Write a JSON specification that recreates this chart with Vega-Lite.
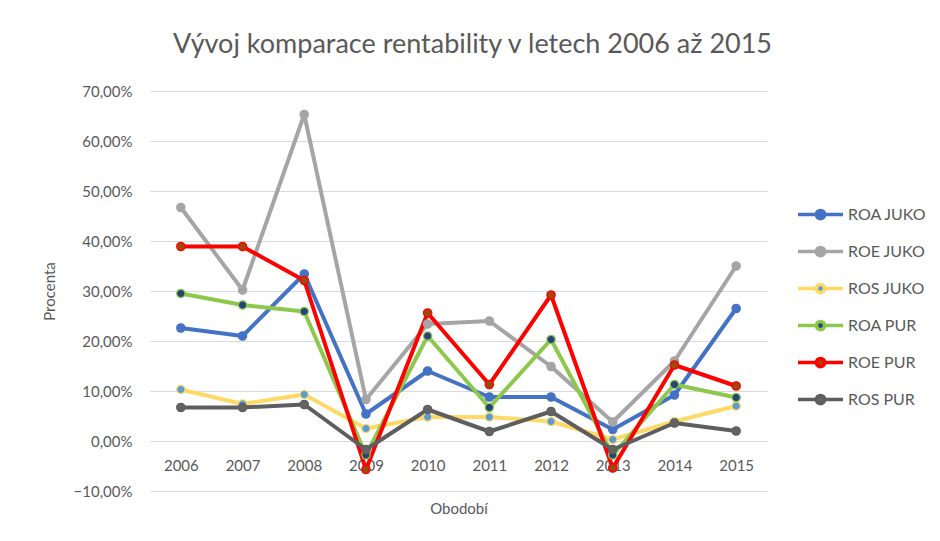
{
  "$schema": "https://vega.github.io/schema/vega-lite/v6.json",
  "autosize": "none",
  "width": 617,
  "height": 400,
  "padding": {"left": 150, "top": 91, "right": 173, "bottom": 50},
  "background": "white",
  "title": {
    "text": "Vývoj komparace rentability v letech  2006 až 2015",
    "font": "Lato",
    "fontSize": 27,
    "fontWeight": "normal",
    "color": "#595959",
    "anchor": "middle",
    "offset": 25,
    "dx": 14
  },
  "config": {
    "view": {"stroke": null},
    "font": "Lato"
  },
  "data": {
    "values": [
      {"year": "2006", "series": "ROA JUKO", "value": 22.6},
      {"year": "2007", "series": "ROA JUKO", "value": 21.0},
      {"year": "2008", "series": "ROA JUKO", "value": 33.4},
      {"year": "2009", "series": "ROA JUKO", "value": 5.4},
      {"year": "2010", "series": "ROA JUKO", "value": 14.0},
      {"year": "2011", "series": "ROA JUKO", "value": 8.8},
      {"year": "2012", "series": "ROA JUKO", "value": 8.8},
      {"year": "2013", "series": "ROA JUKO", "value": 2.3},
      {"year": "2014", "series": "ROA JUKO", "value": 9.2},
      {"year": "2015", "series": "ROA JUKO", "value": 26.5},
      {"year": "2006", "series": "ROE JUKO", "value": 46.7},
      {"year": "2007", "series": "ROE JUKO", "value": 30.2},
      {"year": "2008", "series": "ROE JUKO", "value": 65.3},
      {"year": "2009", "series": "ROE JUKO", "value": 8.3},
      {"year": "2010", "series": "ROE JUKO", "value": 23.4},
      {"year": "2011", "series": "ROE JUKO", "value": 24.0},
      {"year": "2012", "series": "ROE JUKO", "value": 14.9},
      {"year": "2013", "series": "ROE JUKO", "value": 3.8},
      {"year": "2014", "series": "ROE JUKO", "value": 16.0},
      {"year": "2015", "series": "ROE JUKO", "value": 35.0},
      {"year": "2006", "series": "ROS JUKO", "value": 10.3},
      {"year": "2007", "series": "ROS JUKO", "value": 7.4},
      {"year": "2008", "series": "ROS JUKO", "value": 9.3},
      {"year": "2009", "series": "ROS JUKO", "value": 2.5},
      {"year": "2010", "series": "ROS JUKO", "value": 4.8},
      {"year": "2011", "series": "ROS JUKO", "value": 4.8},
      {"year": "2012", "series": "ROS JUKO", "value": 3.9},
      {"year": "2013", "series": "ROS JUKO", "value": 0.3},
      {"year": "2014", "series": "ROS JUKO", "value": 3.9},
      {"year": "2015", "series": "ROS JUKO", "value": 7.0},
      {"year": "2006", "series": "ROA PUR", "value": 29.5},
      {"year": "2007", "series": "ROA PUR", "value": 27.2},
      {"year": "2008", "series": "ROA PUR", "value": 25.9},
      {"year": "2009", "series": "ROA PUR", "value": -2.8},
      {"year": "2010", "series": "ROA PUR", "value": 21.0},
      {"year": "2011", "series": "ROA PUR", "value": 6.7},
      {"year": "2012", "series": "ROA PUR", "value": 20.3},
      {"year": "2013", "series": "ROA PUR", "value": -2.8},
      {"year": "2014", "series": "ROA PUR", "value": 11.3},
      {"year": "2015", "series": "ROA PUR", "value": 8.7},
      {"year": "2006", "series": "ROE PUR", "value": 38.9},
      {"year": "2007", "series": "ROE PUR", "value": 38.9},
      {"year": "2008", "series": "ROE PUR", "value": 32.1},
      {"year": "2009", "series": "ROE PUR", "value": -5.7},
      {"year": "2010", "series": "ROE PUR", "value": 25.6},
      {"year": "2011", "series": "ROE PUR", "value": 11.3},
      {"year": "2012", "series": "ROE PUR", "value": 29.2},
      {"year": "2013", "series": "ROE PUR", "value": -5.4},
      {"year": "2014", "series": "ROE PUR", "value": 15.2},
      {"year": "2015", "series": "ROE PUR", "value": 11.0},
      {"year": "2006", "series": "ROS PUR", "value": 6.7},
      {"year": "2007", "series": "ROS PUR", "value": 6.7},
      {"year": "2008", "series": "ROS PUR", "value": 7.3},
      {"year": "2009", "series": "ROS PUR", "value": -1.7},
      {"year": "2010", "series": "ROS PUR", "value": 6.3},
      {"year": "2011", "series": "ROS PUR", "value": 1.9},
      {"year": "2012", "series": "ROS PUR", "value": 5.9},
      {"year": "2013", "series": "ROS PUR", "value": -1.7},
      {"year": "2014", "series": "ROS PUR", "value": 3.6},
      {"year": "2015", "series": "ROS PUR", "value": 2.0}
    ]
  },
  "encoding": {
    "x": {
      "field": "year",
      "type": "ordinal",
      "scale": {"type": "point", "padding": 0.5},
      "axis": {
        "title": "Obodobí",
        "labelAngle": 0,
        "offset": -50,
        "domainColor": "#d9d9d9",
        "ticks": false,
        "labelFont": "Lato",
        "labelFontSize": 15,
        "labelColor": "#595959",
        "labelPadding": 17,
        "titleFont": "Lato",
        "titleFontSize": 15,
        "titleFontWeight": "normal",
        "titleColor": "#595959",
        "titlePadding": 28
      }
    },
    "y": {
      "field": "value",
      "type": "quantitative",
      "scale": {"domain": [-10, 70], "nice": false},
      "axis": {
        "title": "Procenta",
        "values": [-10, 0, 10, 20, 30, 40, 50, 60, 70],
        "labelExpr": "replace(format(datum.value, '.2f'), '.', ',') + '%'",
        "domain": false,
        "ticks": false,
        "grid": true,
        "gridColor": "#d9d9d9",
        "labelFont": "Lato",
        "labelFontSize": 15,
        "labelColor": "#595959",
        "labelPadding": 18,
        "titleFont": "Lato",
        "titleFontSize": 15,
        "titleFontWeight": "normal",
        "titleColor": "#595959",
        "titlePadding": 16
      }
    },
    "stroke": {
      "field": "series",
      "type": "nominal",
      "sort": ["ROA JUKO", "ROE JUKO", "ROS JUKO", "ROA PUR", "ROE PUR", "ROS PUR"],
      "scale": {
        "domain": ["ROA JUKO", "ROE JUKO", "ROS JUKO", "ROA PUR", "ROE PUR", "ROS PUR"],
        "range": ["#4472C4", "#A5A5A5", "#FFD966", "#8CC84B", "#FF0000", "#5E5E5E"]
      },
      "legend": {
        "title": null,
        "orient": "none",
        "legendX": 661,
        "legendY": 114,
        "symbolType": "M-3,0L-0.55,0M0.55,0L3,0M-0.55,0A0.55,0.55,0,1,1,0.55,0A0.55,0.55,0,1,1,-0.55,0Z",
        "symbolSize": 225,
        "symbolStrokeWidth": 3.5,
        "labelFont": "Lato",
        "labelFontSize": 16,
        "labelColor": "#595959",
        "labelOffset": 18,
        "rowPadding": 14
      }
    }
  },
  "layer": [
    {
      "mark": {"type": "line", "strokeWidth": 4, "strokeJoin": "round", "strokeCap": "round"}
    },
    {
      "mark": {"type": "point", "filled": true, "size": 70, "strokeWidth": 1.2, "opacity": 1},
      "encoding": {
        "fill": {
          "field": "series",
          "type": "nominal",
          "scale": {
            "domain": ["ROA JUKO", "ROE JUKO", "ROS JUKO", "ROA PUR", "ROE PUR", "ROS PUR"],
            "range": ["#4472C4", "#A5A5A5", "#5B9BD5", "#264478", "#9E480E", "#636363"]
          },
          "legend": {
            "title": null,
            "orient": "none",
            "legendX": 661,
            "legendY": 114,
            "symbolType": "M-3,0L-0.55,0M0.55,0L3,0M-0.55,0A0.55,0.55,0,1,1,0.55,0A0.55,0.55,0,1,1,-0.55,0Z",
            "symbolSize": 225,
            "symbolStrokeWidth": 3.5,
            "labelFont": "Lato",
            "labelFontSize": 16,
            "labelColor": "#595959",
            "labelOffset": 18,
            "rowPadding": 14
          }
        }
      }
    }
  ]
}
